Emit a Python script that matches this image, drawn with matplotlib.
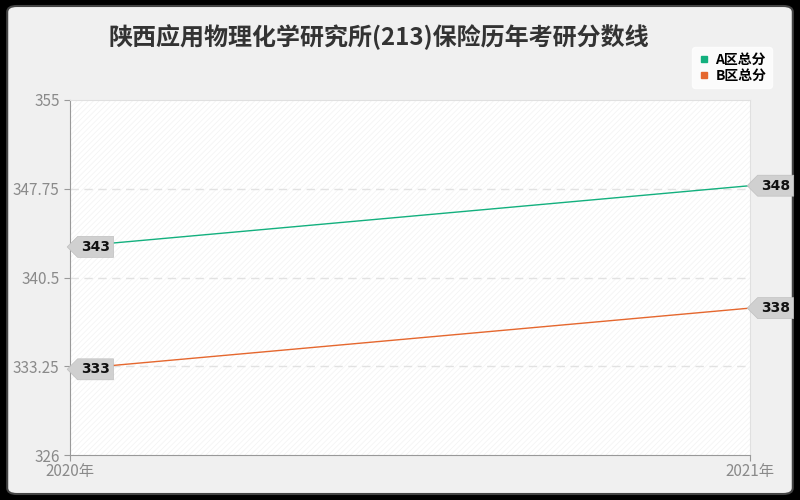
import matplotlib
matplotlib.use("Agg")
import matplotlib.pyplot as plt
from matplotlib.patches import FancyBboxPatch
from matplotlib.lines import Line2D
from matplotlib.path import Path

plt.rcParams['font.family'] = ['Noto Sans CJK SC', 'DejaVu Sans']
plt.rcParams['hatch.linewidth'] = 0.6

title = "陕西应用物理化学研究所(213)保险历年考研分数线"
years = ["2020年", "2021年"]
series_names = ["A区总分", "B区总分"]
a_values = [343, 348]
b_values = [333, 338]
yticks = [326, 333.25, 340.5, 347.75, 355]
colors = ["#13b07e", "#e5672e"]


def pentagon(x0, y0, width, height, mutation_size):
    pad = 0.25 * mutation_size
    x0 -= pad
    y0 -= pad
    w = width + 2 * pad
    h = height + 2 * pad
    x1, y1 = x0 + w, y0 + h
    verts = [(x0 - h / 2, y0 + h / 2), (x0, y1), (x1, y1), (x1, y0), (x0, y0), (x0 - h / 2, y0 + h / 2)]
    codes = [Path.MOVETO] + [Path.LINETO] * 4 + [Path.CLOSEPOLY]
    return Path(verts, codes)


fig = plt.figure(figsize=(8, 5), dpi=100)
fig.patch.set_facecolor("black")
bg = FancyBboxPatch((0.009, 0.012), 0.982, 0.976, boxstyle="round,pad=0,rounding_size=0.012",
                    transform=fig.transFigure, facecolor="#f0f0f0", edgecolor="#444444",
                    linewidth=1.5, zorder=-10)
fig.patches.append(bg)

ax = fig.add_axes([70/800, 45/500, 680/800, 355/500])
ax.set_facecolor("white")
ax.add_patch(plt.Rectangle((0, 0), 1, 1, transform=ax.transAxes, facecolor="none",
                           hatch="//////", edgecolor="#f4f4f4", linewidth=0, zorder=0))

x = list(range(len(years)))
for vals, c, name in zip([a_values, b_values], colors, series_names):
    ax.plot(x, vals, color=c, linewidth=1, zorder=3, label=name)
    for xi, v in zip(x, vals):
        ax.annotate(str(v), (xi, v), xytext=(8, 0), textcoords="offset points",
                    ha="left", va="center", fontsize=10, color="#111111", zorder=5,
                    family=['DejaVu Sans'], weight="bold", annotation_clip=False,
                    bbox=dict(boxstyle=pentagon, facecolor="#d0d0d0", edgecolor="#c0c0c0", linewidth=0.5))

ax.set_xlim(0, 1)
ax.set_ylim(326, 355)
ax.set_yticks(yticks)
ax.set_yticklabels(["326", "333.25", "340.5", "347.75", "355"])
ax.set_xticks(x)
ax.set_xticklabels(years)
ax.tick_params(axis="both", colors="#999999", labelcolor="#8a8a8a", labelsize=11, length=4)
ax.tick_params(axis="x", pad=2)
for yv in yticks[1:-1]:
    ax.axhline(yv, color="#e2e2e2", linestyle=(0, (6, 4)), linewidth=1, zorder=1)
ax.spines["left"].set_color("#999999")
ax.spines["bottom"].set_color("#999999")
ax.spines["top"].set_color("#e0e0e0")
ax.spines["right"].set_color("#e0e0e0")

fig.text(379/800, 1 - 37/500, title, ha="center", va="center", fontsize=17.3, color="#333333",
         weight="bold")

handles = [Line2D([], [], marker="s", linestyle="none", markersize=5, color=c) for c in colors]
leg = fig.legend(handles, series_names, loc="upper right", bbox_to_anchor=(779/800, 1 - 40/500),
                 frameon=True, handletextpad=0.3, borderpad=0.4, labelspacing=0.15,
                 handlelength=1.0, fancybox=True,
                 prop=dict(size=10, weight="bold"))
leg.get_frame().set_facecolor("white")
leg.get_frame().set_edgecolor("white")

fig.savefig("out.png", dpi=100, facecolor=fig.get_facecolor())
